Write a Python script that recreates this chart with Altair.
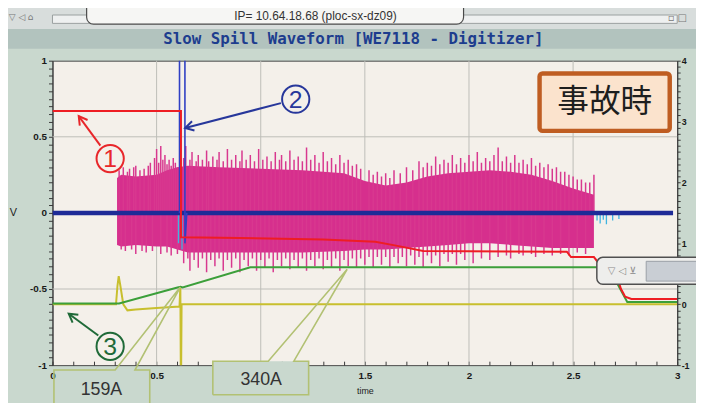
import math
import altair as alt
import pandas as pd

# ---------------- data (time [s], left axis [V]) ----------------
red_t = [0.0, 0.617, 0.617, 0.9, 1.3, 1.55, 1.65, 1.78, 2.47, 2.49, 2.60, 2.64, 2.70, 2.723, 2.73, 2.742, 2.75, 2.78, 3.0]
red_v = [0.67, 0.67, -0.16, -0.165, -0.175, -0.19, -0.215, -0.25, -0.255, -0.29, -0.29, -0.36, -0.44, -0.47, -0.50, -0.53, -0.55, -0.565, -0.565]

green_t = [0.0, 0.32, 0.60, 0.615, 0.625, 0.95, 2.67, 2.76, 3.0]
green_v = [-0.595, -0.595, -0.49, -0.485, -0.49, -0.357, -0.357, -0.585, -0.585]

yellow_t = [0.0, 0.305, 0.312, 0.318, 0.325, 0.34, 0.36, 0.40, 0.50, 0.61, 0.614, 0.616, 0.618, 0.62, 3.0]
yellow_v = [-0.6, -0.6, -0.48, -0.415, -0.47, -0.6, -0.64, -0.635, -0.625, -0.615, -0.48, -1.0, -1.0, -0.6, -0.6]

blue_t = [0.0, 2.98]
blue_v = [0.0, 0.0]
blue_spike_t = [0.610, 0.610, 0.636, 0.636, 0.645]
blue_spike_v = [0.0, 1.08, 1.08, -0.20, 0.0]

cyan_t = [0.605, 0.622, 2.615, 2.63, 2.645, 2.66, 2.69, 2.72]
cyan_v = [-0.20, -0.24, -0.05, -0.07, -0.045, -0.075, -0.05, -0.04]

mag_t = [0.31, 0.33, 0.4, 0.5, 0.55, 0.6, 0.65, 0.8, 1.0, 1.2, 1.4, 1.5, 1.6, 1.7, 1.8, 1.9, 2.0, 2.1, 2.2, 2.3, 2.4, 2.5, 2.6]
mag_top = [0.23, 0.25, 0.24, 0.25, 0.28, 0.30, 0.31, 0.30, 0.29, 0.28, 0.26, 0.21, 0.18, 0.20, 0.24, 0.26, 0.27, 0.28, 0.27, 0.25, 0.21, 0.16, 0.12]
mag_bot = [-0.21, -0.22, -0.21, -0.22, -0.22, -0.24, -0.26, -0.26, -0.26, -0.26, -0.25, -0.24, -0.24, -0.23, -0.22, -0.21, -0.20, -0.20, -0.21, -0.22, -0.23, -0.23, -0.23]

spike_up_t = [0.32, 0.34, 0.36, 0.37, 0.39, 0.40, 0.42, 0.44, 0.46, 0.47, 0.49, 0.50, 0.51, 0.52, 0.53,
              0.54, 0.55, 0.56, 0.57, 0.58, 0.59, 0.60,
              0.63, 0.64, 0.66, 0.67, 0.69, 0.70, 0.72, 0.74, 0.75, 0.77, 0.79, 0.80, 0.82, 0.84, 0.86,
              0.88, 0.90, 0.91, 0.93, 0.95, 0.97, 0.99, 1.01, 1.03, 1.05, 1.07, 1.09, 1.10, 1.12,
              1.14, 1.16, 1.18, 1.20, 1.22, 1.24, 1.26, 1.28, 1.30, 1.32, 1.34, 1.36, 1.38, 1.40,
              1.42, 1.44, 1.46, 1.48, 1.52, 1.54, 1.56, 1.58, 1.60, 1.62, 1.64, 1.67, 1.70, 1.73,
              1.76, 1.78, 1.80, 1.82, 1.84, 1.86, 1.88, 1.90, 1.92, 1.94, 1.96, 1.98, 2.00, 2.02,
              2.04, 2.06, 2.08, 2.10, 2.12, 2.14, 2.16, 2.18, 2.20, 2.22, 2.24, 2.26, 2.28, 2.30,
              2.32, 2.34, 2.36, 2.38, 2.40, 2.42, 2.44, 2.46, 2.48, 2.50, 2.52, 2.54, 2.56, 2.58, 2.60]
spike_up_v = [0.28, 0.30, 0.27, 0.29, 0.30, 0.31, 0.28, 0.29, 0.31, 0.33, 0.36, 0.42, 0.33, 0.44, 0.35,
              0.38, 0.32, 0.35, 0.31, 0.36, 0.33, 0.30,
              0.36, 0.44, 0.35, 0.40, 0.34, 0.38, 0.35, 0.41, 0.34, 0.37, 0.35, 0.40, 0.34, 0.42, 0.35,
              0.38, 0.34, 0.41, 0.35, 0.38, 0.34, 0.42, 0.35, 0.37, 0.34, 0.40, 0.35, 0.38, 0.34,
              0.41, 0.35, 0.37, 0.34, 0.43, 0.35, 0.38, 0.33, 0.40, 0.34, 0.36, 0.32, 0.38, 0.33,
              0.35, 0.31, 0.32, 0.29, 0.28, 0.25, 0.27, 0.24, 0.26, 0.23, 0.28, 0.26, 0.30, 0.28,
              0.34, 0.30, 0.33, 0.31, 0.37, 0.32, 0.35, 0.33, 0.38, 0.32, 0.36, 0.33, 0.38, 0.34,
              0.40, 0.33, 0.36, 0.34, 0.38, 0.43, 0.34, 0.37, 0.33, 0.38, 0.33, 0.35, 0.32, 0.36,
              0.31, 0.33, 0.30, 0.32, 0.29, 0.30, 0.27, 0.27, 0.25, 0.24, 0.22, 0.22, 0.20, 0.20, 0.25]

spike_dn_t = [0.33, 0.35, 0.38, 0.40, 0.43, 0.45, 0.48, 0.52, 0.55, 0.57, 0.60, 0.63, 0.65, 0.66, 0.68,
              0.70, 0.72, 0.74, 0.76, 0.78, 0.80, 0.82, 0.84, 0.86, 0.88, 0.90, 0.92, 0.94, 0.96,
              0.98, 1.00, 1.02, 1.04, 1.06, 1.08, 1.10, 1.12, 1.14, 1.16, 1.18, 1.20, 1.22, 1.24,
              1.26, 1.28, 1.30, 1.32, 1.34, 1.36, 1.38, 1.40, 1.42, 1.44, 1.46, 1.48, 1.50, 1.52,
              1.54, 1.56, 1.58, 1.60, 1.62, 1.64, 1.66, 1.68, 1.70, 1.72, 1.74, 1.76, 1.78, 1.80,
              1.82, 1.84, 1.86, 1.88, 1.90, 1.92, 1.94, 1.96, 1.98, 2.02, 2.06, 2.10, 2.14, 2.18,
              2.20, 2.24, 2.26, 2.30, 2.32, 2.36, 2.40, 2.44, 2.48, 2.52, 2.56]
spike_dn_v = [-0.24, -0.25, -0.24, -0.27, -0.25, -0.26, -0.25, -0.27, -0.26, -0.28, -0.27, -0.33, -0.30, -0.38, -0.31,
              -0.36, -0.30, -0.39, -0.31, -0.35, -0.30, -0.38, -0.31, -0.36, -0.30, -0.39, -0.31, -0.35, -0.30,
              -0.38, -0.31, -0.36, -0.30, -0.39, -0.31, -0.35, -0.30, -0.37, -0.31, -0.36, -0.30, -0.38, -0.31,
              -0.35, -0.30, -0.37, -0.31, -0.36, -0.30, -0.38, -0.31, -0.35, -0.30, -0.36, -0.30, -0.34, -0.29,
              -0.36, -0.29, -0.34, -0.29, -0.36, -0.29, -0.33, -0.29, -0.35, -0.28, -0.34, -0.29, -0.36, -0.28,
              -0.33, -0.28, -0.35, -0.27, -0.32, -0.27, -0.34, -0.27, -0.31, -0.33, -0.30, -0.31, -0.29, -0.28,
              -0.30, -0.27, -0.28, -0.27, -0.29, -0.27, -0.28, -0.27, -0.28, -0.26, -0.27]

# axis ticks and grid
x_ticks = [round(i * 0.1, 1) for i in range(0, 31)]
y_ticks = [round(i * 0.05, 2) for i in range(-20, 21)]
r_ticks = [round(i * 0.1, 1) for i in range(-10, 41)]
x_hidden_label = 1.0   # covered by the pasted "340A" label in the picture
grid_t = [0.5, 1.0, 1.5, 2.0, 2.5]
grid_v = [-0.5, 0.5]

# annotations (data coordinates)
circ_text = ["1", "2", "3"]
circ_t = [0.277, 1.168, 0.277]
circ_v = [0.357, 0.747, -0.877]
circ_col = ["#e8262a", "#27379b", "#1f6a38"]
arrow_tail_t = [0.230, 1.097, 0.220]
arrow_tail_v = [0.442, 0.721, -0.805]
arrow_tip_t = [0.126, 0.637, 0.078]
arrow_tip_v = [0.636, 0.558, -0.662]

call159_t = [0.007, 0.007, 0.301, 0.614, 0.396, 0.467, 0.467]
call159_v = [-1.30, -1.032, -1.032, -0.487, -1.032, -1.032, -1.30]
call340_t = [0.770, 0.770, 1.036, 1.415, 1.159, 1.230, 1.230, 0.770]
call340_v = [-1.195, -0.974, -0.974, -0.370, -0.974, -0.974, -1.195, -1.195]
label_text = ["159A", "340A"]
label_t = [0.235, 1.002]
label_v = [-1.162, -1.097]

jiko_text = "事故時"
jiko_box = dict(t1=2.339, t2=2.964, v1=0.539, v2=0.916)
jiko_pos = (2.652, 0.727)

title_text = "Slow Spill Waveform [WE7118 - Digitizer]"
title_pos = (1.445, 1.143)
ip_text = "IP= 10.64.18.68 (ploc-sx-dz09)"
ip_pos = (1.263, 1.29)

# ---------------- helpers ----------------
XS = alt.Scale(domain=[0, 3], nice=False, zero=False)
YS = alt.Scale(domain=[-1, 1], nice=False, zero=False)
PX_T = 632 / 3.0
PX_V = 308 / 2.0
BG = "#c9d8ce"

lab_style = dict(labelFont="Liberation Sans", labelFontWeight="bold", labelColor="#1a1a1a",
                 domainColor="#3a3a3a", tickColor="#3a3a3a", grid=False, labelOverlap=False)
half_expr = "abs(datum.value*2 - round(datum.value*2)) < 0.001 ? '' + round(datum.value*10)/10 : ''"
x_expr = f"abs(datum.value - {x_hidden_label}) < 0.001 ? '' : ({half_expr})"

X_AXIS = alt.Axis(
    values=x_ticks, title="time", titleFontSize=9, titleFontWeight="normal",
    titleFont="Liberation Sans", titleColor="#222", titleY=30, titleBaseline="middle",
    labelExpr=x_expr, offset=-4, domain=False,
    labelFontSize=10, tickSize=4, labelPadding=6, labelFlush=False, **lab_style)
Y_AXIS = alt.Axis(
    values=y_ticks, title="V", titleAngle=0, titleX=-40, titleY=154,
    titleBaseline="middle", titleAlign="center", titleFontSize=11,
    titleFontWeight="normal", titleFont="Liberation Sans", titleColor="#222",
    labelExpr=half_expr,
    labelFontSize=10, tickSize=4, labelPadding=2, labelFlush=False, **lab_style)


def xe(f="t"):
    return alt.X(f"{f}:Q", scale=XS, axis=X_AXIS)


def ye(f="v"):
    return alt.Y(f"{f}:Q", scale=YS, axis=Y_AXIS)


def line(t, v, color, width, clip=True, opacity=1.0):
    df = pd.DataFrame({"t": t, "v": v, "o": list(range(len(t)))})
    return alt.Chart(df).mark_line(color=color, strokeWidth=width, clip=clip,
                                   opacity=opacity, strokeJoin="miter").encode(
        x=xe(), y=ye(), order="o:Q")


def rect(t1, t2, v1, v2, fill, stroke=None, sw=0, radius=0, clip=False):
    df = pd.DataFrame({"t": [t1], "t2": [t2], "v": [v1], "v2": [v2]})
    kw = dict(fill=fill, clip=clip, cornerRadius=radius)
    if stroke:
        kw.update(stroke=stroke, strokeWidth=sw)
    return alt.Chart(df).mark_rect(**kw).encode(
        x=xe(), x2="t2:Q", y=ye(), y2="v2:Q")


def text(s, t, v, size, color, font="Liberation Sans", weight="normal", align="center"):
    df = pd.DataFrame({"t": [t], "v": [v], "s": [s]})
    return alt.Chart(df).mark_text(fontSize=size, color=color, font=font, fontWeight=weight,
                                   align=align, baseline="middle", clip=False).encode(
        x=xe(), y=ye(), text="s:N")


layers = []

# chrome: top bar, IP box, title band
layers.append(rect(-0.4, 3.2, 1.208, 1.45, "#d8dddc"))
layers.append(rect(0.0, 3.0, 1.245, 1.30, "#eef0f0", "#9aa0a0", 1))
layers.append(rect(0.164, 1.974, 1.240, 1.45, "#f6f6f4", "#4a4a4a", 1.2, radius=7))
layers.append(text(ip_text, ip_pos[0], ip_pos[1], 12, "#333"))
layers.append(text("▽ ◁ ⌂", -0.15, 1.29, 9, "#777", font="DejaVu Sans"))
layers.append(text("▫ □", 3.0, 1.28, 10, "#777", font="DejaVu Sans"))
layers.append(rect(-0.4, 3.2, 1.078, 1.208, "#b2c3be"))
layers.append(text(title_text, title_pos[0], title_pos[1], 16, "#1d3d8e",
                   font="DejaVu Sans Mono", weight="bold"))

# grid
layers.append(alt.Chart(pd.DataFrame({"t": grid_t})).mark_rule(
    color="#bdbdb8", strokeWidth=1).encode(x=xe()))
layers.append(alt.Chart(pd.DataFrame({"v": grid_v})).mark_rule(
    color="#bdbdb8", strokeWidth=1).encode(y=ye()))

# magenta spill signal
mag_df = pd.DataFrame({"t": mag_t, "v": mag_top, "v2": mag_bot})
layers.append(alt.Chart(mag_df).mark_area(color="#d62f8d", clip=True).encode(
    x=xe(), y=ye(), y2="v2:Q"))
up_df = pd.DataFrame({"t": spike_up_t, "v": spike_up_v})
up_df["v2"] = 0.0
dn_df = pd.DataFrame({"t": spike_dn_t, "v": spike_dn_v})
dn_df["v2"] = 0.0
for d in (up_df, dn_df):
    layers.append(alt.Chart(d).mark_rule(color="#d8388f", strokeWidth=1.5, clip=True).encode(
        x=xe(), y=ye(), y2="v2:Q"))

# cyan glitches
cy_df = pd.DataFrame({"t": cyan_t, "v": cyan_v})
cy_df["v2"] = 0.0
layers.append(alt.Chart(cy_df).mark_rule(color="#3fb4e0", strokeWidth=1.3, clip=True).encode(
    x=xe(), y=ye(), y2="v2:Q"))

# traces
layers.append(line(blue_t, blue_v, "#1e2b97", 4.5))
layers.append(line(blue_spike_t, blue_spike_v, "#2f3fc4", 1.6))
layers.append(line(yellow_t, yellow_v, "#c8bf2e", 2))
layers.append(line(green_t, green_v, "#3c9f3a", 2))
layers.append(line(red_t, red_v, "#ee1d23", 2))

# callouts 159A / 340A (the 340A label is an opaque pasted box)
layers.append(rect(call340_t[0], call340_t[5], call340_v[1], call340_v[0], BG))
layers.append(line(call159_t, call159_v, "#b2c173", 1.6, clip=False))
layers.append(line(call340_t, call340_v, "#b2c173", 1.6, clip=False))
for s, t, v in zip(label_text, label_t, label_v):
    layers.append(text(s, t, v, 18, "#333"))

# circled numbers with arrows
for i in range(3):
    layers.append(line([arrow_tail_t[i], arrow_tip_t[i]], [arrow_tail_v[i], arrow_tip_v[i]],
                       circ_col[i], 2, clip=False))
    dx = (arrow_tip_t[i] - arrow_tail_t[i]) * PX_T
    dy = -(arrow_tip_v[i] - arrow_tail_v[i]) * PX_V
    ang = math.degrees(math.atan2(dx, -dy)) % 360
    hd = pd.DataFrame({"t": [arrow_tip_t[i]], "v": [arrow_tip_v[i]]})
    layers.append(alt.Chart(hd).mark_point(
        shape="M -0.75 1.3 L 0 0 L 0.75 1.3", filled=False, stroke=circ_col[i],
        strokeWidth=2, size=170, angle=ang, opacity=1, clip=False).encode(x=xe(), y=ye()))
    cd = pd.DataFrame({"t": [circ_t[i]], "v": [circ_v[i]]})
    layers.append(alt.Chart(cd).mark_point(
        shape="circle", filled=False, stroke=circ_col[i], strokeWidth=2, size=760,
        opacity=1, clip=False).encode(x=xe(), y=ye()))
    layers.append(text(circ_text[i], circ_t[i], circ_v[i] - 0.005, 25, circ_col[i]))

# 事故時 box
layers.append(rect(jiko_box["t1"], jiko_box["t2"], jiko_box["v1"], jiko_box["v2"],
                   "#fbe3cd", "#bf5d22", 4.5, radius=3))
layers.append(text(jiko_text, jiko_pos[0], jiko_pos[1], 32, "#1e1e1e", font="Noto Sans CJK JP"))

# small control widget on the right
layers.append(rect(2.614, 3.2, -0.292, -0.468, "#eeeeec", "#505050", 1.5, radius=6))
layers.append(rect(2.851, 3.2, -0.318, -0.448, "#c9ced4", "#9aa0a6", 1))
layers.append(text("▽ ◁ ⊻", 2.735, -0.38, 10, "#8a8a8a", font="DejaVu Sans"))

main = alt.layer(*layers)

right_df = pd.DataFrame({"r": [0.0]})
right = alt.Chart(right_df).mark_point(opacity=0).encode(
    y=alt.Y("r:Q", scale=alt.Scale(domain=[-1, 4], nice=False, zero=False),
            axis=alt.Axis(orient="right", values=r_ticks, title=None,
                          labelExpr="abs(datum.value - round(datum.value)) < 0.001 ? '' + round(datum.value) : ''",
                          labelFontSize=9, tickSize=3, labelPadding=1, labelFlush=False, **lab_style)))

chart = alt.layer(main, right).resolve_scale(y="independent").properties(
    width=632, height=308,
    autosize=alt.AutoSizeParams(type="none"),
    padding={"left": 45, "top": 51, "right": 19, "bottom": 36},
    background=BG,
).configure_view(stroke="#4a4a4a", strokeWidth=1, fill="#f4f0ea")

chart.save("out.html", embed_options={"renderer": "svg", "actions": False})
